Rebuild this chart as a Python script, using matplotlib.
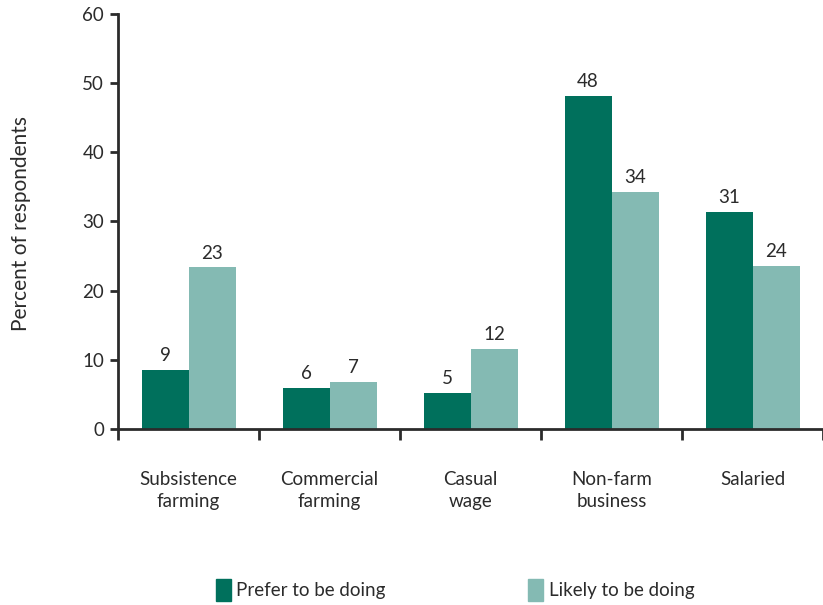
import numpy as np
import matplotlib
matplotlib.use("Agg")
import matplotlib.pyplot as plt
from matplotlib.patches import Patch

categories = ["Subsistence\nfarming", "Commercial\nfarming", "Casual\nwage",
              "Non-farm\nbusiness", "Salaried"]
prefer = [8.6, 6.0, 5.2, 48.2, 31.4]
likely = [23.4, 6.8, 11.6, 34.3, 23.6]
prefer_labels = [9, 6, 5, 48, 31]
likely_labels = [23, 7, 12, 34, 24]
series_names = ["Prefer to be doing", "Likely to be doing"]

dark = "#00705c"
light = "#84bab3"
txt = "#2b2b2b"

plt.rcParams['font.family'] = ['Lato', 'DejaVu Sans']

fig = plt.figure(figsize=(8.23, 6.05), dpi=100)
ax = fig.add_axes([0.1434, 0.2909, 0.8566, 0.686])

x = np.arange(len(categories))
w = 1 / 3
b1 = ax.bar(x - w / 2, prefer, w, color=dark)
b2 = ax.bar(x + w / 2, likely, w, color=light)

for bars, labs in ((b1, prefer_labels), (b2, likely_labels)):
    for r, lab in zip(bars, labs):
        ax.annotate(str(lab), (r.get_x() + r.get_width() / 2, r.get_height()),
                    xytext=(0, 4), textcoords="offset points",
                    ha="center", va="bottom", fontsize=13.5, color=txt)

ax.set_xlim(-0.5, len(categories) - 0.5)
ax.set_ylim(0, 60)
ax.set_yticks(range(0, 61, 10))
ax.set_xticks(np.arange(-0.5, len(categories), 1))
ax.set_xticklabels([])
ax.set_xticks(x, minor=True)
ax.set_xticklabels(categories, minor=True, fontsize=13.5, color=txt,
                   linespacing=1.35)
ax.tick_params(axis="x", which="minor", length=0, pad=30)
ax.tick_params(axis="x", which="major", length=8, width=2, color=txt)
ax.tick_params(axis="y", length=6, width=2, color=txt, labelsize=13.5,
               labelcolor=txt, pad=4)

for s in ("top", "right"):
    ax.spines[s].set_visible(False)
for s in ("left", "bottom"):
    ax.spines[s].set_linewidth(2)
    ax.spines[s].set_color(txt)

fig.text(0.025, 0.63, "Percent of respondents", rotation=90, ha="center",
         va="center", fontsize=15, color=txt)

handles = [Patch(color=dark), Patch(color=light)]
fig.legend(handles, series_names, loc="center", bbox_to_anchor=(0.553, 0.025),
           ncol=2, frameon=False, fontsize=13.5, handlelength=0.8,
           handleheight=1.4, handletextpad=0.3, columnspacing=7.6,
           labelcolor=txt)

fig.savefig("out.png", dpi=100)
